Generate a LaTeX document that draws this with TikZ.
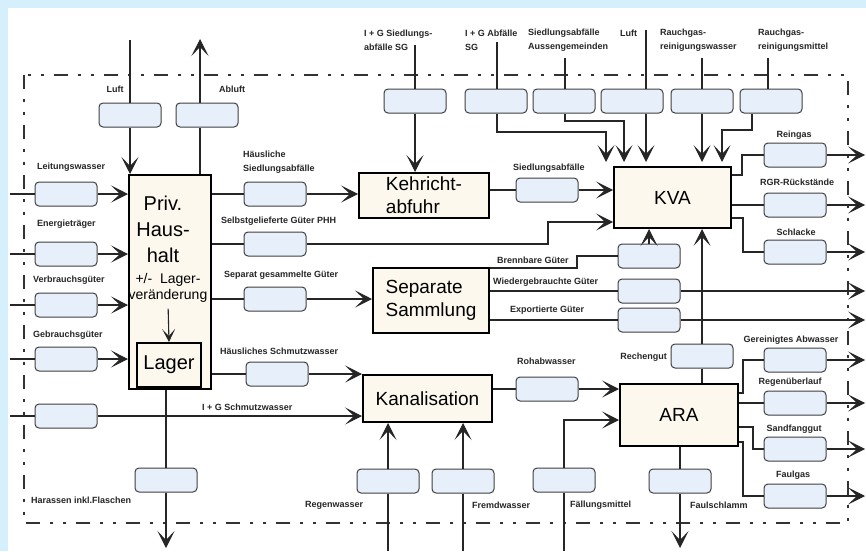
\documentclass[tikz,border=0pt]{standalone}
\usepackage{fontspec}
\setmainfont{Liberation Sans}
\usetikzlibrary{arrows.meta,positioning}

\definecolor{rahmenblau}{HTML}{D5EFFC}
\definecolor{boxblau}{HTML}{E6EFFA}
\definecolor{creme}{HTML}{FCF8EE}

\begin{document}
\begin{tikzpicture}[x=1pt,y=-1pt,
  fluss/.style={draw=black!75,line width=1pt,rounded corners=4pt,fill=boxblau,
    minimum width=62pt,minimum height=24pt,inner sep=0pt},
  prozess/.style={draw=black,line width=2pt,fill=creme,inner sep=0pt,anchor=north west},
  gross/.style={font=\fontsize{19}{23}\selectfont},
  txt/.style={font=\fontsize{9}{14}\selectfont\bfseries,text=black!85,inner sep=0pt,align=left},
  linie/.style={line width=1.1pt,draw=black!85},
  pfeil/.style={linie,-{Stealth[length=17pt,width=17pt,inset=9pt]}},
  grenze/.style={line width=1.6pt,draw=black!80,
    dash pattern=on 14pt off 10pt on 3pt off 10pt on 3pt off 10pt}]

% Rahmen und Systemgrenze
\fill[rahmenblau] (0,0) rectangle (866,551);
\fill[white] (8,8) rectangle (866,551);
\useasboundingbox (0,0) rectangle (866,551);
\draw[grenze] (24,75) rectangle (848,523);

% Prozesse
\node[prozess,minimum width=82pt,minimum height=214pt] (hh) at (128,174) {};
\node[font=\fontsize{20}{26}\selectfont,align=center] (hhtext) at (163,229) {Priv.\\Haus-\\halt};
\node[font=\fontsize{14}{16}\selectfont,align=center,inner sep=0pt] (hhlv) at (168,288) {+/-~~Lager-\\veränderung};
\node[prozess,minimum width=64pt,minimum height=44pt,font=\fontsize{20}{24}\selectfont] (lager) at (136,342) {Lager};
\node[prozess,minimum width=130pt,minimum height=45pt,gross,align=left] (kehricht) at (358,172) {Kehricht-\\abfuhr};
\node[prozess,minimum width=116pt,minimum height=65pt,gross,align=left] (sep) at (372,267) {Separate\\Sammlung};
\node[prozess,minimum width=117pt,minimum height=61pt,gross] (kva) at (613,166) {KVA};
\node[prozess,minimum width=129pt,minimum height=47pt,gross] (kanal) at (362,374) {Kanalisation};
\node[prozess,minimum width=118pt,minimum height=62pt,gross] (ara) at (619,383) {ARA};

% Flussboxen
\node[fluss] (luft) at (130,115) {};
\node[fluss] (abluft) at (207,115) {};
\node[fluss] (lw) at (66,194) {};
\node[fluss] (et) at (66,254) {};
\node[fluss] (vg) at (66,305) {};
\node[fluss] (gg) at (66,359) {};
\node[fluss] (igs) at (66,416) {};
\node[fluss] (hab) at (166,480) {};
\node[fluss] (hsa) at (275,194) {};
\node[fluss] (sgp) at (275,244) {};
\node[fluss] (sgg) at (275,299) {};
\node[fluss] (hsw) at (277,374) {};
\node[fluss] (kgs) at (415,101) {};
\node[fluss] (sab) at (547,190) {};
\node[fluss] (igsg) at (496,101) {};
\node[fluss] (sag) at (564,101) {};
\node[fluss] (kluft) at (632,101) {};
\node[fluss] (rgw) at (702,101) {};
\node[fluss] (rgm) at (771,101) {};
\node[fluss] (rein) at (795,155) {};
\node[fluss] (rgr) at (795,205) {};
\node[fluss] (sch) at (795,252) {};
\node[fluss] (bg) at (649,256) {};
\node[fluss] (wg) at (649,291) {};
\node[fluss] (eg) at (649,320) {};
\node[fluss] (rech) at (702,356) {};
\node[fluss] (roh) at (547,389) {};
\node[fluss] (fm) at (564,480) {};
\node[fluss] (fs) at (680,481) {};
\node[fluss] (rw) at (388,481) {};
\node[fluss] (fw) at (463,481) {};
\node[fluss] (ga) at (795,360) {};
\node[fluss] (ru) at (795,403) {};
\node[fluss] (sf) at (795,449) {};
\node[fluss] (fg) at (795,496) {};

% freie Enden
\coordinate (in-luft) at (130,40);
\coordinate (aus-abl) at (200,39);
\coordinate (in-lw) at (10,194);
\coordinate (in-et) at (10,254);
\coordinate (in-vg) at (10,305);
\coordinate (in-gg) at (10,359);
\coordinate (in-igs) at (10,416);
\coordinate (aus-hab) at (166,548);
\coordinate (in-kgs) at (415,45);
\coordinate (in-igsg) at (497,42);
\coordinate (in-sag) at (565,58);
\coordinate (in-kluft) at (646,30);
\coordinate (in-rgw) at (702,58);
\coordinate (in-rgm) at (768,58);
\coordinate (k1) at (606,132);
\coordinate (k2) at (624,121);
\coordinate (k5) at (722,130);
\coordinate (k5a) at (752,113);
\coordinate (in-rw) at (388,551);
\coordinate (in-fw) at (463,551);
\coordinate (in-fm) at (564,551);
\coordinate (aus-fs) at (680,548);
\coordinate (aus-rein) at (865,155);
\coordinate (aus-rgr) at (865,205);
\coordinate (aus-sch) at (865,252);
\coordinate (aus-wg) at (865,291);
\coordinate (aus-eg) at (865,320);
\coordinate (aus-ga) at (865,360);
\coordinate (aus-ru) at (865,403);
\coordinate (aus-sf) at (865,449);
\coordinate (aus-fg) at (865,496);

% Privathaushalt
\draw[linie] (in-luft) -- (luft.north);
\draw[pfeil] (luft.south) -- (hh.north -| luft);
\draw[linie] (hh.north -| aus-abl) -- (abluft.south -| aus-abl);
\draw[pfeil] (abluft.north -| aus-abl) -- (aus-abl);
\foreach \f in {lw,et,vg,gg} {
  \draw[linie] (in-\f) -- (\f.west);
  \draw[pfeil] (\f.east) -- (hh.west |- \f);
}
\draw[pfeil,shorten <=6pt,-{Stealth[length=13pt,width=13pt,inset=7pt]}] (hhlv.south) -- (lager.north);
\draw[linie] (hh.south -| hab) -- (hab.north);
\draw[pfeil] (hab.south) -- (aus-hab);
\draw[linie] (hh.east |- hsa) -- (hsa.west);
\draw[pfeil] (hsa.east) -- (kehricht.west |- hsa);
\draw[linie] (hh.east |- sgp) -- (sgp.west);
\draw[pfeil] (sgp.east) -| (548,222) -- (kva.west |- 0,222);
\draw[linie] (hh.east |- sgg) -- (sgg.west);
\draw[pfeil] (sgg.east) -- (sep.west |- sgg);
\draw[linie] (hh.east |- hsw) -- (hsw.west);
\draw[pfeil] (hsw.east) -- (kanal.west |- hsw);
\draw[linie] (in-igs) -- (igs.west);
\draw[pfeil] (igs.east) -- (kanal.west |- igs);

% Kehrichtabfuhr und KVA
\draw[linie] (in-kgs) -- (kgs.north);
\draw[pfeil] (kgs.south) -- (kehricht.north -| kgs);
\draw[linie] (kehricht.east |- sab) -- (sab.west);
\draw[pfeil] (sab.east) -- (kva.west |- sab);
\draw[linie] (in-igsg) -- (igsg.north -| in-igsg);
\draw[pfeil,shorten >=4pt] (igsg.south -| in-igsg) |- (k1) -- (kva.north -| k1);
\draw[linie] (in-sag) -- (sag.north -| in-sag);
\draw[pfeil,shorten >=4pt] (sag.south -| in-sag) |- (k2) -- (kva.north -| k2);
\draw[linie] (in-kluft) -- (kluft.north -| in-kluft);
\draw[pfeil,shorten >=4pt] (kluft.south -| in-kluft) -- (kva.north -| in-kluft);
\draw[linie] (in-rgw) -- (rgw.north -| in-rgw);
\draw[pfeil,shorten >=4pt] (rgw.south -| in-rgw) -- (kva.north -| in-rgw);
\draw[linie] (in-rgm) -- (rgm.north -| in-rgm);
\draw[pfeil,shorten >=4pt] (rgm.south -| k5a) |- (k5) -- (kva.north -| k5);
\draw[linie] (kva.east |- 0,175) -- (742,175) |- (rein.west);
\draw[pfeil] (rein.east) -- (aus-rein);
\draw[linie] (kva.east |- rgr) -- (rgr.west);
\draw[pfeil] (rgr.east) -- (aus-rgr);
\draw[linie] (kva.east |- 0,218) -- (743,218) |- (sch.west);
\draw[pfeil] (sch.east) -- (aus-sch);

% Separate Sammlung
\draw[linie] (sep.east |- 0,268) -- (577,268) |- (bg.west);
\draw[pfeil] (bg.north) -- (kva.south -| bg);
\draw[linie] (sep.east |- wg) -- (wg.west);
\draw[pfeil] (wg.east) -- (aus-wg);
\draw[linie] (sep.east |- eg) -- (eg.west);
\draw[pfeil] (eg.east) -- (aus-eg);

% Kanalisation und ARA
\draw[linie] (in-rw) -- (rw.south);
\draw[pfeil] (rw.north) -- (kanal.south -| rw);
\draw[linie] (in-fw) -- (fw.south);
\draw[pfeil] (fw.north) -- (kanal.south -| fw);
\draw[linie] (kanal.east |- roh) -- (roh.west);
\draw[pfeil] (roh.east) -- (ara.west |- roh);
\draw[linie] (in-fm) -- (fm.south);
\draw[pfeil] (fm.north) |- (ara.west |- 0,420);
\draw[linie] (ara.north -| rech) -- (rech.south);
\draw[pfeil] (rech.north) -- (kva.south -| rech);
\draw[linie] (ara.south -| fs) -- (fs.north);
\draw[pfeil] (fs.south) -- (aus-fs);
\draw[linie] (ara.east |- 0,393) -- (743,393) |- (ga.west);
\draw[pfeil] (ga.east) -- (aus-ga);
\draw[linie] (ara.east |- ru) -- (ru.west);
\draw[pfeil] (ru.east) -- (aus-ru);
\draw[linie] (ara.east |- 0,427) -- (753,427) |- (sf.west);
\draw[pfeil] (sf.east) -- (aus-sf);
\draw[linie] (ara.east |- 0,442) -- (743,442) |- (fg.west);
\draw[pfeil] (fg.east) -- (aus-fg);

% Beschriftungen
\node[txt,anchor=west] (l-kgs) at (364,40) {I + G Siedlungs-\\abfälle SG};
\node[txt,anchor=west] (l-igsg) at (465,40) {I + G Abfälle\\SG};
\node[txt,anchor=west] (l-sag) at (528,40) {Siedlungsabfälle\\Aussengemeinden};
\node[txt,anchor=west] (l-kluft) at (620,33) {Luft};
\node[txt,anchor=west] (l-rgw) at (660,40) {Rauchgas-\\reinigungswasser};
\node[txt,anchor=west] (l-rgm) at (758,40) {Rauchgas-\\reinigungsmittel};
\node[txt] (l-luft) at (115,89) {Luft};
\node[txt] (l-abluft) at (232,89) {Abluft};
\node[txt,anchor=west] (l-lw) at (37,167) {Leitungswasser};
\node[txt,anchor=west] (l-et) at (37,224) {Energieträger};
\node[txt,anchor=west] (l-vg) at (33,280) {Verbrauchsgüter};
\node[txt,anchor=west] (l-gg) at (33,335) {Gebrauchsgüter};
\node[txt,anchor=west] (l-hab) at (31,500) {Harassen inkl.Flaschen};
\node[txt,anchor=west] (l-hsa) at (243,162) {Häusliche\\Siedlungsabfälle};
\node[txt,anchor=west] (l-sgp) at (221,221) {Selbstgelieferte Güter PHH};
\node[txt,anchor=west] (l-sgg) at (224,275) {Separat gesammelte Güter};
\node[txt,anchor=west] (l-hsw) at (220,351) {Häusliches Schmutzwasser};
\node[txt,anchor=west] (l-igs) at (202,407) {I + G Schmutzwasser};
\node[txt,anchor=west] (l-sab) at (513,168) {Siedlungsabfälle};
\node[txt,anchor=west] (l-bg) at (497,260) {Brennbare Güter};
\node[txt,anchor=west] (l-wg) at (493,282) {Wiedergebrauchte Güter};
\node[txt,anchor=west] (l-eg) at (510,310) {Exportierte Güter};
\node[txt,anchor=west] (l-roh) at (517,361) {Rohabwasser};
\node[txt,anchor=east] (l-rech) at (667,357) {Rechengut};
\node[txt] (l-rein) at (794,135) {Reingas};
\node[txt] (l-rgr) at (797,182) {RGR-Rückstände};
\node[txt] (l-sch) at (796,232) {Schlacke};
\node[txt] (l-ga) at (791,340) {Gereinigtes Abwasser};
\node[txt] (l-ru) at (790,382) {Regenüberlauf};
\node[txt] (l-sf) at (794,429) {Sandfanggut};
\node[txt] (l-fg) at (793,475) {Faulgas};
\node[txt,anchor=west] (l-rw) at (305,505) {Regenwasser};
\node[txt,anchor=west] (l-fw) at (472,505) {Fremdwasser};
\node[txt,anchor=west] (l-fm) at (570,505) {Fällungsmittel};
\node[txt,anchor=west] (l-fs) at (690,505) {Faulschlamm};

\end{tikzpicture}
\end{document}
